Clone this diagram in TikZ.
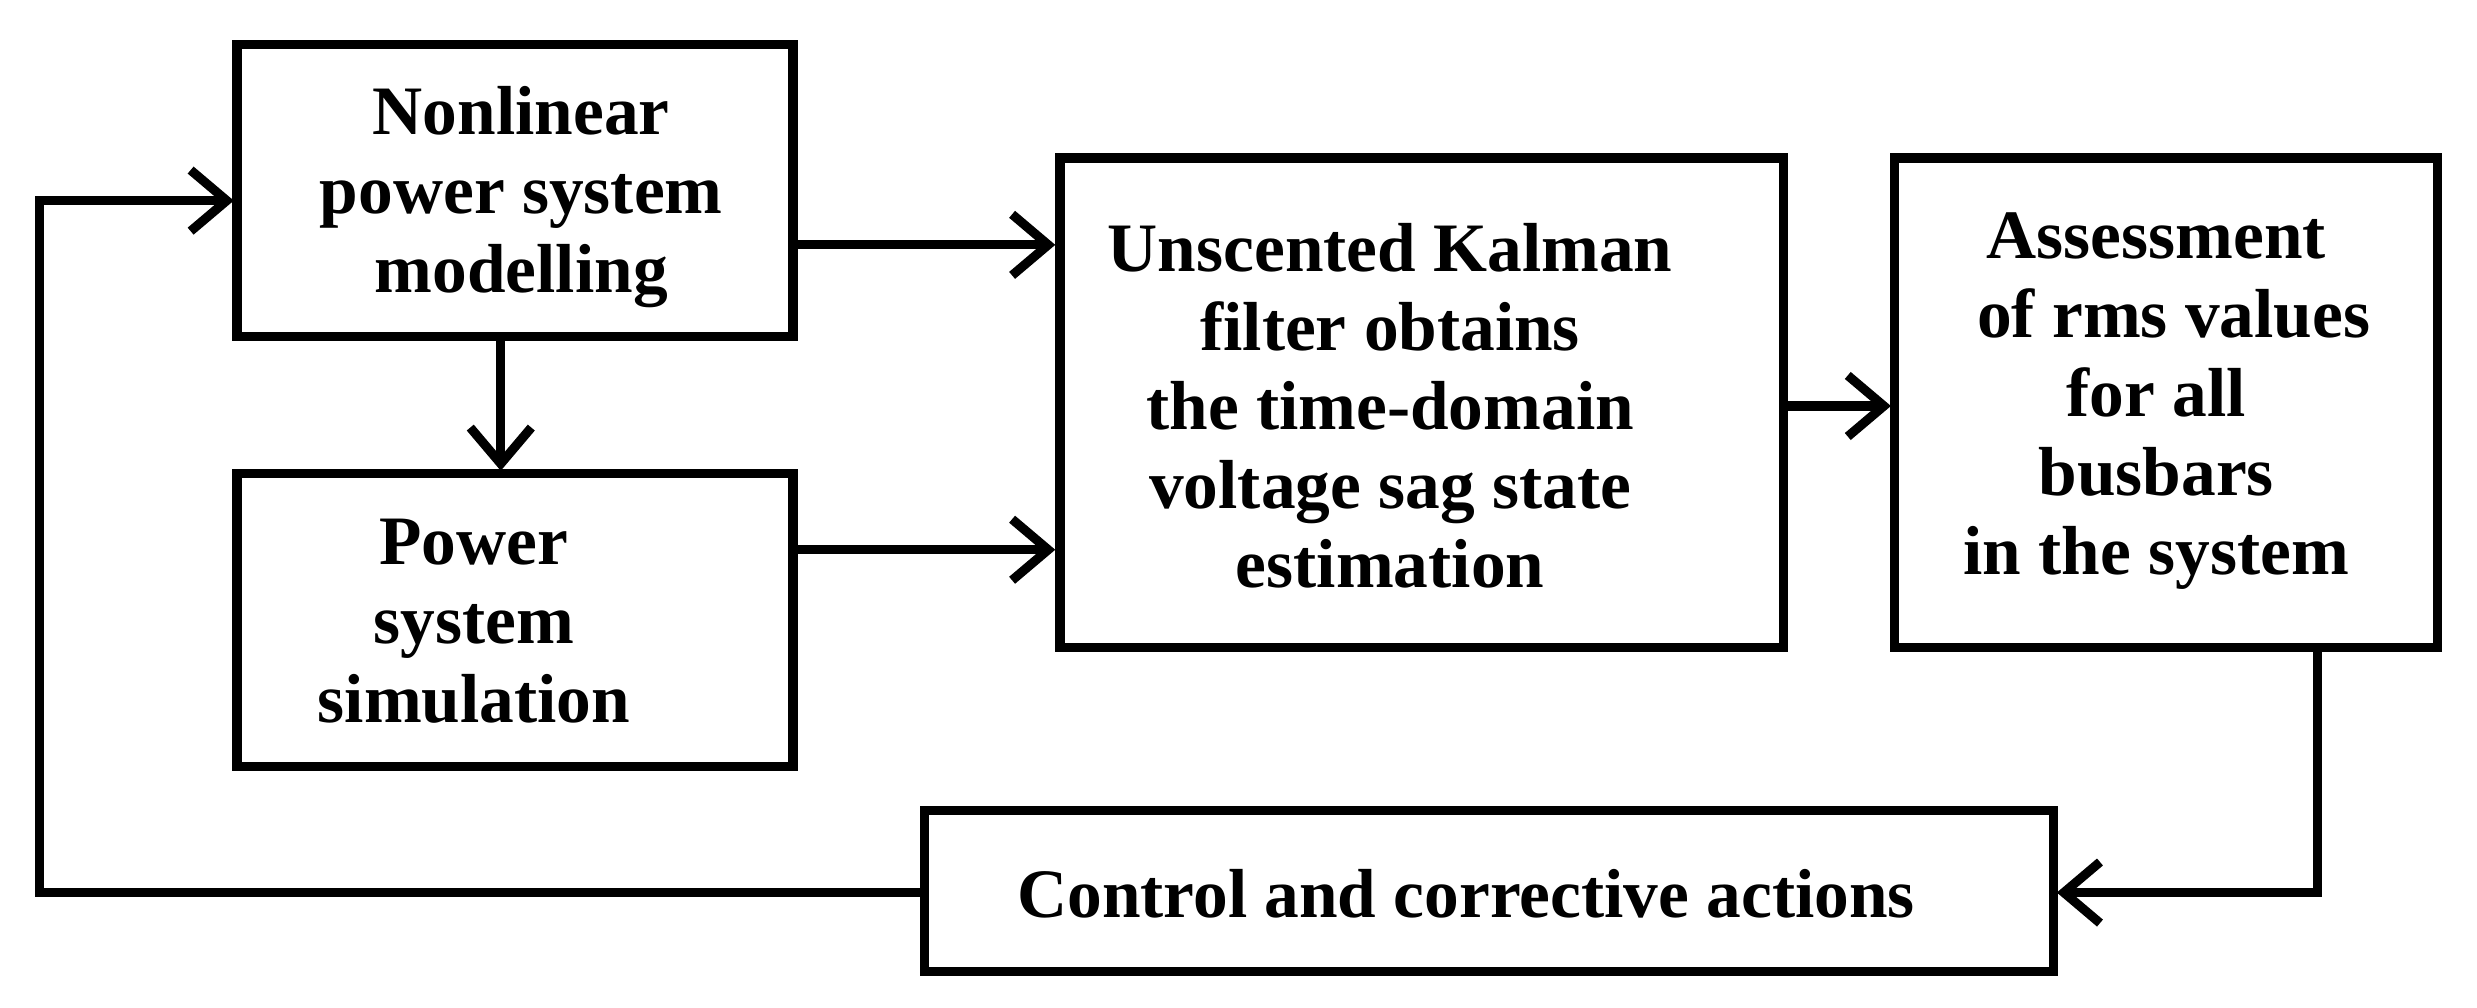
\documentclass[tikz,border=0pt]{standalone}
\usepackage{fontspec}
\setmainfont{Liberation Serif}
\usetikzlibrary{arrows.meta}
\begin{document}
\begin{tikzpicture}[x=0.02cm,y=-0.02cm,
  box/.style={draw,line width=3.3pt,inner sep=0pt},
  lbl/.style={align=center,font=\fontsize{25}{28.5}\selectfont\bfseries},
  con/.style={line width=3.3pt,-{Straight Barb[length=13pt,width=22pt,line width=3.3pt]}},
  ln/.style={line width=3.3pt}]
\useasboundingbox (0,0) rectangle (1568,638);
\draw[box] (150,28) rectangle (502,213);
\draw[box] (150,300) rectangle (502,485);
\draw[box] (671,100) rectangle (1129,410);
\draw[box] (1199,100) rectangle (1543,410);
\draw[box] (585,513) rectangle (1300,615);
\node[lbl] (a) at (330,125) {Nonlinear\\power system\\modelling};
\node[lbl] (b) at (300,393) {Power\\system\\simulation};
\node[lbl] (c) at (880,257) {Unscented Kalman\\filter obtains\\the time-domain\\voltage sag state\\estimation};
\node[lbl] (d) at (1365,254) {Assessment\\\ \ of rms values\\for all\\busbars\\in the system};
\node[lbl] (e) at (928,566) {Control and corrective actions};
\coordinate (a1) at (502,155); \coordinate (c1) at (668,155);
\coordinate (b1) at (502,348); \coordinate (c2) at (668,348);
\coordinate (a2) at (317,213); \coordinate (b2) at (317,298);
\coordinate (c3) at (1129,257); \coordinate (d1) at (1197,257);
\coordinate (d2) at (1467,410); \coordinate (e1) at (1302,565);
\coordinate (e2) at (585,565); \coordinate (a3) at (148,127);
\draw[con] (a1) -- (c1);
\draw[con] (b1) -- (c2);
\draw[con] (a2) -- (b2);
\draw[con] (c3) -- (d1);
\draw[con] (d2) |- (e1);
\draw[con] (e2) -- (25,565) -- (25,127) -- (a3);
\end{tikzpicture}
\end{document}
